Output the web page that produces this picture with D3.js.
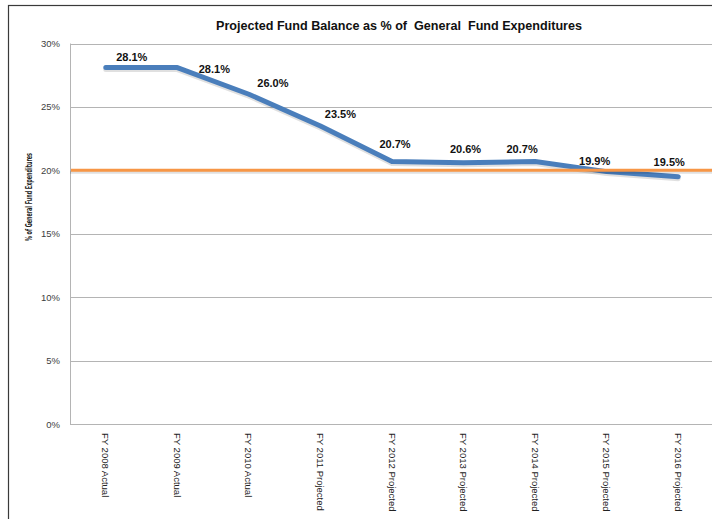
<!DOCTYPE html>
<html><head><meta charset="utf-8">
<script src="https://cdn.jsdelivr.net/npm/d3@7"></script>
<style>
html,body{margin:0;padding:0;background:#fff;}
svg{display:block;font-family:"Liberation Sans",Arial,sans-serif;}
</style></head>
<body>
<svg id="chart" width="712" height="519"></svg>
<script>
// ---- data ----
const categories = ["FY 2008 Actual","FY 2009 Actual","FY 2010 Actual","FY 2011 Projected","FY 2012 Projected","FY 2013 Projected","FY 2014 Projected","FY 2015 Projected","FY 2016 Projected"];
const balancePct = [28.1, 28.1, 26.0, 23.5, 20.7, 20.6, 20.7, 19.9, 19.5];
const targetPct = 20;
const yTicks = [0, 5, 10, 15, 20, 25, 30];
const yTickLabels = ["0%","5%","10%","15%","20%","25%","30%"];
const title = "Projected Fund Balance as % of  General  Fund Expenditures";
const yTitle = "% of General Fund Expenditures";
// label placement nudges (px) as in the original chart
const labelDx = [26, 37, 24, 20, 3, 2, -13, -12, -9];
const labelDy = [-11, 1, -11, -12, -17, -14, -12, -11, -15];

const svg = d3.select("#chart");
const plot = {left: 70, right: 714, top: 43.5, bottom: 424};

// outer chart border
svg.append("rect").attr("x", 8.5).attr("y", 5.5).attr("width", 720).attr("height", 530)
  .attr("fill", "#fff").attr("stroke", "#3a3a3a").attr("stroke-width", 1.2);

const x = d3.scaleBand().domain(categories).range([plot.left, plot.right]);
const y = d3.scaleLinear().domain([0, 30]).range([plot.bottom, plot.top]);

// gridlines
svg.append("g").selectAll("line").data(yTicks).join("line")
  .attr("x1", plot.left).attr("x2", plot.right)
  .attr("y1", d => Math.round(y(d)) + 0.5).attr("y2", d => Math.round(y(d)) + 0.5)
  .attr("stroke", "#b4b4b4").attr("stroke-width", 1);
// left border of plot
svg.append("line").attr("x1", plot.left + 0.5).attr("x2", plot.left + 0.5)
  .attr("y1", y(30)).attr("y2", y(0)).attr("stroke", "#b4b4b4");

// y axis tick labels
const yAxis = d3.axisLeft(y).tickValues(yTicks).tickSize(0).tickPadding(10)
  .tickFormat((d, i) => yTickLabels[i]);
const gy = svg.append("g").attr("transform", `translate(${plot.left},0)`).call(yAxis);
gy.select(".domain").remove();
gy.selectAll("text").attr("font-size", "9.5px").attr("fill", "#404040")
  .attr("font-family", "Liberation Sans, Arial, sans-serif");

// x axis labels (rotated)
const xAxis = d3.axisBottom(x).tickSize(0);
const gx = svg.append("g").attr("transform", `translate(0,${plot.bottom})`).call(xAxis);
gx.select(".domain").remove();
gx.selectAll("text")
  .attr("font-size", "9.5px").attr("fill", "#222")
  .attr("font-family", "Liberation Sans, Arial, sans-serif")
  .attr("text-anchor", "start").attr("dy", null).attr("y", 0)
  .attr("transform", "translate(0,9) rotate(90)")
  .attr("dominant-baseline", "central");

// lines
const line = d3.line().x((d, i) => x(categories[i]) + x.bandwidth() / 2).y(d => y(d));

// shadow of blue line
svg.append("path").datum(balancePct).attr("d", line)
  .attr("fill", "none").attr("stroke", "#000").attr("stroke-opacity", 0.12)
  .attr("stroke-width", 5).attr("stroke-linecap", "round").attr("stroke-linejoin", "round")
  .attr("transform", "translate(0,2)");
svg.append("path").datum(balancePct).attr("d", line)
  .attr("fill", "none").attr("stroke", "#4a7ebb").attr("stroke-width", 5)
  .attr("stroke-linecap", "round").attr("stroke-linejoin", "round");

// target line (20%)
svg.append("line").attr("x1", plot.left).attr("x2", plot.right)
  .attr("y1", y(targetPct) + 2).attr("y2", y(targetPct) + 2)
  .attr("stroke", "#000").attr("stroke-opacity", 0.12).attr("stroke-width", 3);
svg.append("line").attr("x1", plot.left + 1).attr("x2", plot.right)
  .attr("y1", y(targetPct)).attr("y2", y(targetPct))
  .attr("stroke", "#f79646").attr("stroke-width", 3);

// data labels
svg.append("g").selectAll("text").data(balancePct).join("text")
  .attr("x", (d, i) => x(categories[i]) + x.bandwidth() / 2 + labelDx[i])
  .attr("y", (d, i) => y(d) + labelDy[i])
  .attr("text-anchor", "middle").attr("dominant-baseline", "central")
  .attr("font-size", "11px").attr("font-weight", "bold").attr("fill", "#111")
  .text(d => d.toFixed(1) + "%");

// title
svg.append("text").attr("x", 399).attr("y", 30).attr("text-anchor", "middle")
  .attr("font-size", "12.5px").attr("font-weight", "bold").attr("fill", "#111")
  .style("white-space", "pre").attr("textLength", 366).attr("lengthAdjust", "spacingAndGlyphs")
  .text(title);

// y title
svg.append("text").attr("transform", "translate(29,197) rotate(-90)")
  .attr("text-anchor", "middle").attr("dominant-baseline", "central")
  .attr("font-family", "'Liberation Sans Narrow','DejaVu Sans Condensed','Liberation Sans',sans-serif")
  .attr("font-size", "9px").attr("font-weight", "bold").attr("fill", "#222")
  .attr("textLength", 88).attr("lengthAdjust", "spacingAndGlyphs")
  .text(yTitle);
</script>
</body></html>
